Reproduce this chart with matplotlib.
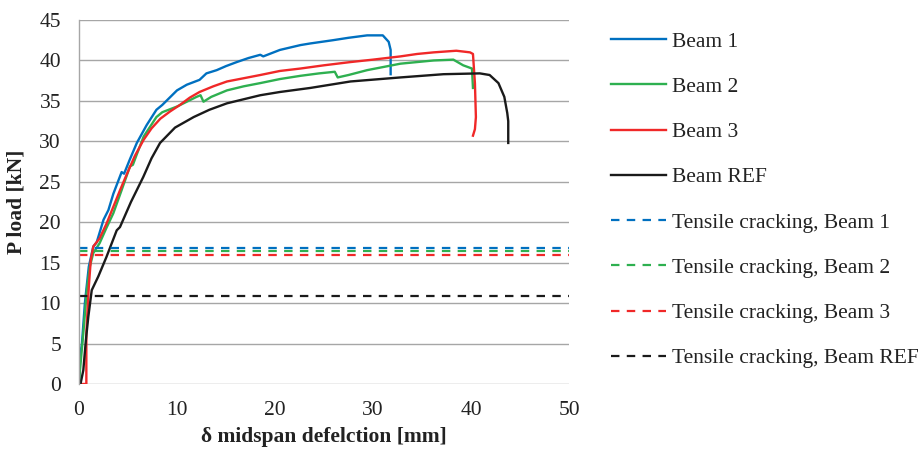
import matplotlib
matplotlib.use("Agg")
import matplotlib.pyplot as plt

plt.rcParams['font.family'] = ['Liberation Serif', 'DejaVu Serif']

beam1_x = [0, 0.05, 0.3, 0.6, 1.0, 1.46, 1.8, 2.5, 3.0, 3.5, 4.35, 4.6, 5.2, 5.9, 6.9, 7.9, 8.5, 10.0, 11.0, 12.3, 13.0, 14.05, 15.0, 16.1, 17.3, 18.5, 18.8, 20.5, 22.6, 23.6, 25.9, 27.5, 29.4, 31.0, 31.6, 31.8, 31.8]
beam1_y = [0, 3.0, 5.0, 10.0, 14.5, 17.0, 17.5, 20.3, 21.5, 23.5, 26.2, 26.0, 27.8, 29.8, 32.0, 33.9, 34.5, 36.3, 37.0, 37.6, 38.4, 38.8, 39.3, 39.8, 40.3, 40.7, 40.5, 41.3, 41.9, 42.1, 42.5, 42.8, 43.1, 43.1, 42.3, 41.3, 38.3]

beam2_x = [0, 0.1, 0.44, 0.8, 1.1, 1.46, 2.1, 2.8, 3.5, 4.3, 5.2, 5.5, 5.9, 6.6, 7.9, 8.5, 10.0, 11.0, 12.0, 12.4, 12.7, 13.5, 15.1, 16.8, 18.5, 20.5, 22.6, 24.5, 26.1, 26.4, 27.5, 29.4, 32.8, 36.2, 38.2, 39.2, 40.1, 40.2]
beam2_y = [0, 1.7, 6.3, 11.6, 14.5, 16.2, 17.4, 19.3, 21.1, 23.8, 26.9, 27.1, 28.4, 30.6, 33.0, 33.6, 34.3, 34.9, 35.5, 35.7, 34.9, 35.5, 36.3, 36.8, 37.2, 37.7, 38.1, 38.4, 38.6, 37.9, 38.2, 38.8, 39.6, 40.0, 40.1, 39.4, 39.0, 36.6]

beam3_x = [0.2, 0.75, 0.75, 1.0, 1.2, 1.46, 2.1, 2.8, 3.5, 4.2, 4.9, 5.7, 6.6, 7.4, 8.3, 9.3, 10.3, 11.3, 12.3, 13.7, 15.1, 16.8, 18.5, 20.5, 22.6, 25.0, 27.7, 30.0, 32.8, 34.5, 36.2, 38.5, 39.9, 40.2, 40.4, 40.5, 40.4, 40.2]
beam3_y = [0, 0, 6.3, 12.0, 15.3, 17.0, 18.0, 19.8, 21.9, 24.0, 26.0, 28.2, 30.2, 31.6, 32.8, 33.7, 34.5, 35.4, 36.1, 36.8, 37.4, 37.8, 38.2, 38.7, 39.0, 39.4, 39.8, 40.1, 40.5, 40.8, 41.0, 41.2, 41.0, 40.8, 37.2, 33.0, 31.5, 30.7]

beamref_x = [0, 0.17, 0.44, 0.7, 0.95, 1.3, 1.97, 2.8, 3.85, 4.18, 5.3, 6.56, 7.4, 8.27, 9.8, 11.7, 13.3, 15.1, 18.5, 20.5, 23.6, 27.7, 32.8, 37.2, 40.9, 41.9, 42.8, 43.4, 43.7, 43.8, 43.8]
beamref_y = [0, 0.1, 1.7, 5.4, 8.3, 11.6, 13.3, 15.7, 19.0, 19.4, 22.5, 25.6, 27.9, 29.8, 31.7, 33.0, 33.9, 34.7, 35.7, 36.1, 36.6, 37.4, 37.9, 38.3, 38.4, 38.2, 37.2, 35.5, 33.5, 32.5, 29.8]

series_labels = ["Beam 1", "Beam 2", "Beam 3", "Beam REF"]
crack_labels = ["Tensile cracking, Beam 1", "Tensile cracking, Beam 2",
                "Tensile cracking, Beam 3", "Tensile cracking, Beam REF"]
crack_loads = [16.8, 16.5, 15.9, 10.9]
colors = ["#0070C0", "#2EB050", "#F02828", "#1A1A1A"]

x_ticks = [0, 10, 20, 30, 40, 50]
y_ticks = [0, 5, 10, 15, 20, 25, 30, 35, 40, 45]

fig = plt.figure(figsize=(9.24, 4.55), dpi=100)
ax = fig.add_axes([79/924, 1 - 384/455, (569-79)/924, (384-20)/455])

xs = [beam1_x, beam2_x, beam3_x, beamref_x]
ys = [beam1_y, beam2_y, beam3_y, beamref_y]
for x, y, c, lab in zip(xs, ys, colors, series_labels):
    ax.plot(x, y, color=c, lw=1.7, label=lab, solid_joinstyle='round')
for v, c, lab in zip(crack_loads, colors, crack_labels):
    ax.plot([x_ticks[0], x_ticks[-1]], [v, v], color=c, lw=1.6,
            linestyle=(0, (3.8, 3.3)), label=lab)

ax.set_xlim(x_ticks[0], x_ticks[-1])
ax.set_ylim(y_ticks[0], y_ticks[-1])
ax.set_xticks(x_ticks)
ax.set_yticks(y_ticks)
ax.yaxis.grid(True, color="#A6A6A6", lw=1.0)
ax.set_axisbelow(True)
for s in ["top", "right", "bottom"]:
    ax.spines[s].set_visible(False)
ax.spines["left"].set_color("#A6A6A6")
ax.spines["left"].set_linewidth(1.0)
ax.tick_params(axis='both', length=0, labelsize=15.5, colors="#222222")
ax.tick_params(axis='y', pad=13)
ax.tick_params(axis='x', pad=12)

ax.set_xlabel("δ midspan defelction [mm]", fontsize=15.5, fontweight='bold', color="#222222", labelpad=5)
ax.set_ylabel("P load [kN]", fontsize=15.5, fontweight='bold', color="#222222", labelpad=9)

leg = fig.legend(loc='upper left', bbox_to_anchor=(611/924, 1 - 31.5/455),
                 frameon=False, fontsize=15.5, handlelength=2.55, handletextpad=0.3,
                 labelspacing=1.17, borderpad=0, borderaxespad=0)
for t in leg.get_texts():
    t.set_color("#222222")

fig.savefig("out.png", dpi=100)
